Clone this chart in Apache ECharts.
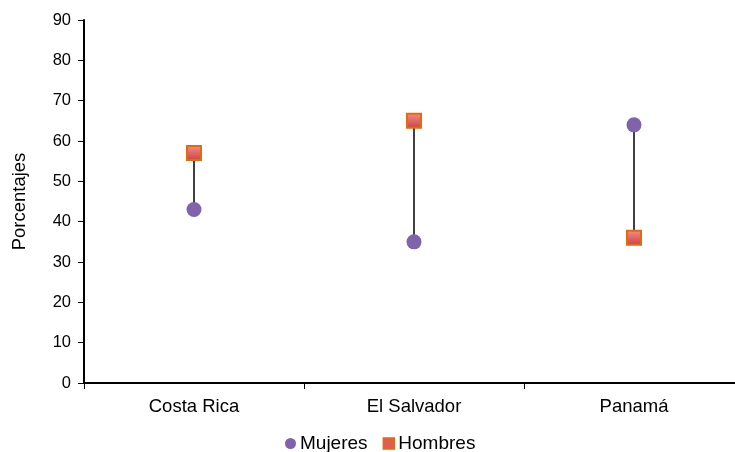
<!DOCTYPE html>
<html><head><meta charset="utf-8">
<script src="https://cdn.jsdelivr.net/npm/echarts@6/dist/echarts.min.js"></script>
<style>html,body{margin:0;padding:0;background:#fff;overflow:hidden;width:735px;height:452px}#c{width:746px;height:452px}</style>
</head><body><div id="c"></div>
<script>
const categories = ['Costa Rica', 'El Salvador', 'Panamá'];
const mujeres = [43, 35, 64];
const hombres = [57, 65, 36];
const yTicks = [0, 10, 20, 30, 40, 50, 60, 70, 80, 90];

const chart = echarts.init(document.getElementById('c'));
const ranges = categories.map((c, i) => [i, Math.min(mujeres[i], hombres[i]), Math.max(mujeres[i], hombres[i])]);
const font = 'Liberation Sans, Arial, sans-serif';
chart.setOption({
  animation: false,
  grid: { left: 84, top: 20, width: 660, height: 363 },
  legend: {
    top: 429, left: 280, itemGap: 15, itemWidth: 11, itemHeight: 11,
    textStyle: { fontFamily: font, fontSize: 19, color: '#000', padding: [0, 0, 0, -1] },
    data: [
      { name: 'Mujeres', icon: 'circle', itemStyle: { color: '#7f63ab' } },
      { name: 'Hombres', icon: 'rect', itemStyle: { color: '#e25c50', borderColor: '#e36c09', borderWidth: 1.5 } }
    ]
  },
  xAxis: {
    type: 'category', data: categories, boundaryGap: true,
    axisLine: { lineStyle: { color: '#000', width: 2 } },
    axisTick: { show: true, length: 6, lineStyle: { color: '#000', width: 1 } },
    axisLabel: { fontFamily: font, fontSize: 18.5, color: '#000', margin: 14 }
  },
  yAxis: {
    type: 'value', min: yTicks[0], max: yTicks[yTicks.length - 1], interval: 10,
    name: 'Porcentajes', nameLocation: 'middle', nameGap: 55, nameRotate: 90,
    nameTextStyle: { fontFamily: font, fontSize: 18.5, color: '#000' },
    axisLine: { show: true, lineStyle: { color: '#000', width: 2 } },
    axisTick: { show: true, length: 6, lineStyle: { color: '#000', width: 1 } },
    axisLabel: { fontFamily: font, fontSize: 16.5, color: '#000', margin: 13 },
    splitLine: { show: false }
  },
  series: [
    {
      type: 'custom', name: 'range', silent: true, z: 1,
      renderItem: function (params, api) {
        const a = api.coord([api.value(0), api.value(1)]);
        const b = api.coord([api.value(0), api.value(2)]);
        return { type: 'line', shape: { x1: a[0], y1: a[1], x2: b[0], y2: b[1] }, style: { stroke: '#000', lineWidth: 1.5 } };
      },
      encode: { x: 0, y: [1, 2] },
      data: ranges
    },
    {
      type: 'scatter', name: 'Mujeres', symbol: 'circle', symbolSize: 15, z: 3,
      itemStyle: { color: '#7f63ab', opacity: 1 },
      data: mujeres
    },
    {
      type: 'scatter', name: 'Hombres', symbol: 'rect', symbolSize: 14, z: 3,
      itemStyle: {
        color: new echarts.graphic.LinearGradient(0, 0, 0, 1, [{ offset: 0, color: '#f28e8e' }, { offset: 1, color: '#cc4040' }]),
        borderColor: '#e36c09', borderWidth: 2, opacity: 1
      },
      data: hombres
    }
  ]
});
</script></body></html>
